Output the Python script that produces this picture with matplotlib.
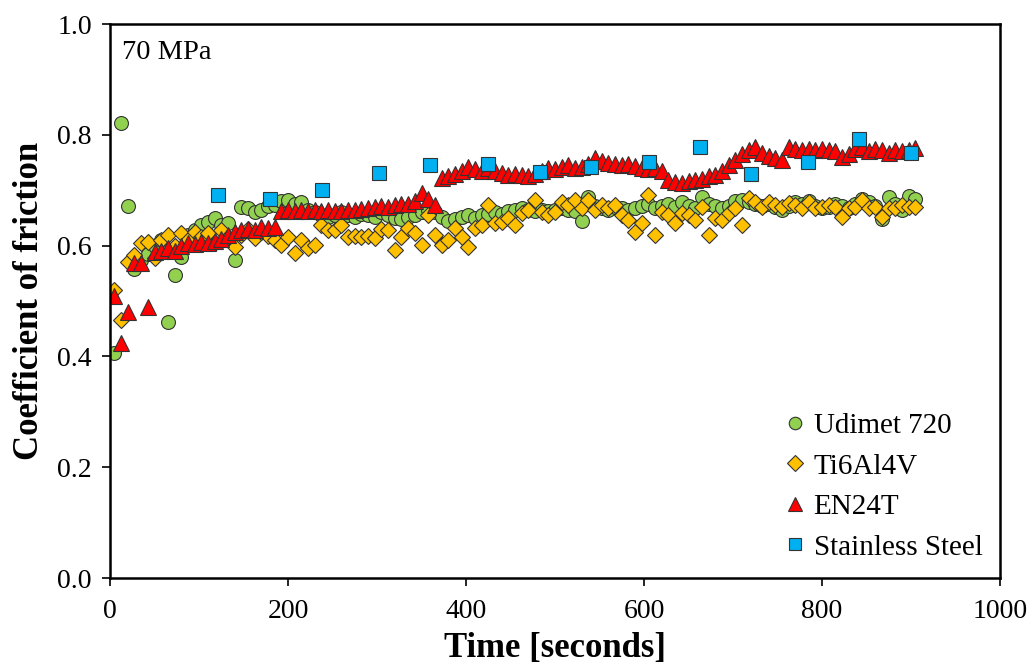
import numpy as np
import matplotlib
matplotlib.use("Agg")
import matplotlib.pyplot as plt

# sampling times (s) for the three dense series
time = np.arange(5, 906, 7.5)

udimet = [
    0.406, 0.821, 0.671, 0.558, 0.575, 0.585, 0.600, 0.610, 0.462, 0.547,
    0.580, 0.620, 0.628, 0.637, 0.643, 0.650, 0.637, 0.641, 0.574, 0.670,
    0.668, 0.660, 0.665, 0.672, 0.673, 0.680, 0.682, 0.676, 0.679, 0.665,
    0.660, 0.655, 0.652, 0.655, 0.660, 0.655, 0.652, 0.658, 0.655, 0.652,
    0.660, 0.655, 0.650, 0.648, 0.652, 0.655, 0.660, 0.665, 0.660, 0.652,
    0.645, 0.648, 0.652, 0.655, 0.650, 0.655, 0.658, 0.660, 0.658, 0.662,
    0.665, 0.668, 0.665, 0.662, 0.665, 0.662, 0.665, 0.668, 0.665, 0.662,
    0.645, 0.688, 0.672, 0.668, 0.665, 0.670, 0.668, 0.665, 0.668, 0.672,
    0.675, 0.668, 0.672, 0.675, 0.670, 0.678, 0.672, 0.668, 0.688, 0.675,
    0.672, 0.668, 0.672, 0.680, 0.682, 0.678, 0.675, 0.672, 0.675, 0.670,
    0.665, 0.672, 0.678, 0.675, 0.680, 0.672, 0.668, 0.670, 0.675, 0.672,
    0.668, 0.675, 0.685, 0.678, 0.672, 0.648, 0.688, 0.675, 0.665, 0.690,
    0.685,
]

ti6al4v = [
    0.520, 0.466, 0.570, 0.583, 0.604, 0.607, 0.577, 0.610, 0.619, 0.600,
    0.623, 0.610, 0.625, 0.615, 0.623, 0.605, 0.628, 0.615, 0.598, 0.620,
    0.630, 0.613, 0.625, 0.618, 0.610, 0.601, 0.616, 0.587, 0.610, 0.596,
    0.601, 0.637, 0.628, 0.628, 0.637, 0.616, 0.618, 0.615, 0.617, 0.614,
    0.630, 0.628, 0.592, 0.616, 0.632, 0.623, 0.601, 0.655, 0.619, 0.601,
    0.610, 0.632, 0.616, 0.598, 0.632, 0.637, 0.673, 0.641, 0.643, 0.650,
    0.637, 0.659, 0.664, 0.682, 0.661, 0.655, 0.661, 0.679, 0.673, 0.682,
    0.668, 0.682, 0.664, 0.673, 0.668, 0.673, 0.655, 0.646, 0.625, 0.641,
    0.691, 0.619, 0.660, 0.655, 0.641, 0.659, 0.655, 0.646, 0.670, 0.619,
    0.650, 0.646, 0.659, 0.668, 0.637, 0.686, 0.679, 0.670, 0.679, 0.673,
    0.670, 0.677, 0.673, 0.668, 0.679, 0.668, 0.670, 0.673, 0.670, 0.652,
    0.668, 0.670, 0.682, 0.668, 0.670, 0.652, 0.668, 0.668, 0.673, 0.670,
    0.670,
]

en24t = [
    0.510, 0.424, 0.480, 0.568, 0.568, 0.489, 0.588, 0.590, 0.595, 0.590,
    0.600, 0.605, 0.603, 0.607, 0.605, 0.608, 0.612, 0.620, 0.625, 0.628,
    0.630, 0.628, 0.633, 0.632, 0.634, 0.662, 0.664, 0.662, 0.665, 0.663,
    0.664, 0.662, 0.665, 0.663, 0.662, 0.665, 0.664, 0.666, 0.668, 0.670,
    0.672, 0.670, 0.674, 0.676, 0.675, 0.680, 0.695, 0.685, 0.673, 0.722,
    0.726, 0.730, 0.735, 0.742, 0.738, 0.735, 0.740, 0.735, 0.732, 0.728,
    0.730, 0.728, 0.725, 0.730, 0.735, 0.740, 0.738, 0.742, 0.745, 0.740,
    0.742, 0.748, 0.758, 0.752, 0.750, 0.748, 0.745, 0.747, 0.744, 0.740,
    0.738, 0.740, 0.735, 0.718, 0.715, 0.714, 0.716, 0.718, 0.720, 0.725,
    0.728, 0.735, 0.745, 0.755, 0.765, 0.772, 0.778, 0.768, 0.762, 0.758,
    0.755, 0.778, 0.775, 0.772, 0.775, 0.772, 0.775, 0.772, 0.770, 0.760,
    0.765, 0.775, 0.778, 0.770, 0.775, 0.772, 0.768, 0.772, 0.770, 0.772,
    0.776,
]

steel_time = [121, 180, 238, 302, 360, 425, 483, 540, 606, 663, 720, 784, 842, 900]
steel = [0.691, 0.684, 0.700, 0.731, 0.745, 0.747, 0.733, 0.742, 0.751, 0.778,
         0.729, 0.751, 0.792, 0.767]

plt.rcParams['font.family'] = ['Liberation Serif', 'DejaVu Serif']

fig = plt.figure(figsize=(10.35, 6.69), dpi=100)
ax = fig.add_axes([0.1063, 0.136, 0.8599, 0.828])

ax.plot(time, udimet, 'o', color='#92D050', markeredgecolor='#333333',
        markeredgewidth=0.8, markersize=10, label='Udimet 720')
ax.plot(time, ti6al4v, 'D', color='#FFC000', markeredgecolor='#333333',
        markeredgewidth=0.8, markersize=8.5, label='Ti6Al4V')
ax.plot(time, en24t, '^', color='#FF0000', markeredgecolor='#333333',
        markeredgewidth=0.8, markersize=11, label='EN24T')
ax.plot(steel_time, steel, 's', color='#00B0F0', markeredgecolor='#333333',
        markeredgewidth=0.8, markersize=10, label='Stainless Steel')

ax.set_xlim(0, 1000)
ax.set_ylim(0, 1.0)
ax.set_xticks(np.arange(0, 1001, 200))
ax.set_yticks(np.arange(0, 1.01, 0.2))
ax.set_yticklabels([f"{v:.1f}" for v in np.arange(0, 1.01, 0.2)])
ax.tick_params(direction='out', length=6, width=1.2, labelsize=20)
ax.tick_params(axis='x', pad=9)
ax.tick_params(axis='y', pad=7)
for s in ax.spines.values():
    s.set_linewidth(1.8)

ax.set_xlabel("Time [seconds]", fontsize=25, fontweight='bold', labelpad=6)
ax.set_ylabel("Coefficient of friction", fontsize=25, fontweight='bold', labelpad=8)
ax.text(0.014, 0.972, "70 MPa", transform=ax.transAxes, fontsize=20.5,
        va='top', ha='left')

ax.legend(loc='lower right', frameon=False, fontsize=21, markerscale=0.9,
          handletextpad=0.0, handlelength=1.3, labelspacing=0.48,
          borderaxespad=0.2)

fig.savefig("out.png", dpi=100)
